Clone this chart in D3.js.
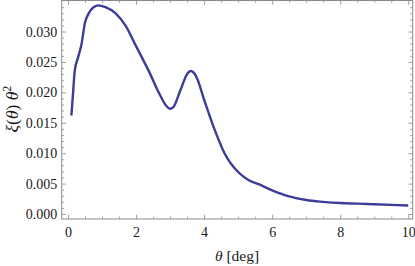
<!DOCTYPE html>
<html>
<head>
<meta charset="utf-8">
<script src="https://cdn.jsdelivr.net/npm/d3@7"></script>
<style>
	body { margin: 0; background: #fff; }
</style>
</head>
<body>
<div id="chart"></div>
<script>
// theta in degrees, xi(theta)*theta^2
const theta = [0.1, 0.15, 0.2, 0.3, 0.4, 0.5, 0.6, 0.75, 0.9, 1.1, 1.4, 1.7, 2.0, 2.4, 2.7, 2.9, 3.0, 3.1, 3.3, 3.5, 3.6, 3.7, 3.8, 4.0, 4.3, 4.6, 5.0, 5.3, 5.6, 6.0, 6.5, 7.0, 7.5, 8.0, 8.5, 9.0, 9.5, 10.0];
const xiTheta2 = [0.0162, 0.0200, 0.0236, 0.0258, 0.0280, 0.0315, 0.0329, 0.0340, 0.0343, 0.0340, 0.0330, 0.0309, 0.0276, 0.0232, 0.0196, 0.0177, 0.0173, 0.0176, 0.0203, 0.0230, 0.0235, 0.0232, 0.0222, 0.0188, 0.0140, 0.0100, 0.0069, 0.0056, 0.0049, 0.0039, 0.0029, 0.0023, 0.0020, 0.0018, 0.0017, 0.0016, 0.0015, 0.0014];

const xMajor = [0, 2, 4, 6, 8, 10];
const yMajor = [0.000, 0.005, 0.010, 0.015, 0.020, 0.025, 0.030];

const W = 415, H = 266;
const mLeft = 61.7, mRight = 412.7, mTop = 0.5, mBottom = 219;
const serif = "'Liberation Serif', 'Times New Roman', serif";

const svg = d3.select('#chart').append('svg').attr('width', W).attr('height', H);

const x = d3.scaleLinear().domain([-0.185, 10.13]).range([mLeft, mRight]);
const y = d3.scaleLinear().domain([-0.00082, 0.0351]).range([mBottom, mTop]);

const xMinor = d3.range(0, 10.01, 0.5).filter(v => !xMajor.includes(v));
const yMinor = d3.range(0, 0.0351, 0.001).filter(v => Math.abs(v / 0.005 - Math.round(v / 0.005)) > 1e-6);

const frameColor = '#8a8a8a';

// ticks pointing inward on all four sides
function drawTicks(axisGen, transform) {
	const g = svg.append('g').attr('transform', transform).call(axisGen).attr('font-family', serif);
	g.select('.domain').remove();
	g.selectAll('line').attr('stroke', frameColor).attr('stroke-width', 0.8);
	return g;
}

// bottom
const bx = drawTicks(d3.axisBottom(x).tickValues(xMajor).tickSizeInner(-4.3).tickSizeOuter(0).tickPadding(12).tickFormat(d3.format('d')), `translate(0,${mBottom})`);
bx.selectAll('text').attr('fill', '#1a1a1a').style('font-family', serif).style('font-size', '14px').attr('dy', '0.71em').attr('y', 8);
drawTicks(d3.axisBottom(x).tickValues(xMinor).tickSizeInner(-2.4).tickSizeOuter(0).tickFormat(''), `translate(0,${mBottom})`);
// top
drawTicks(d3.axisTop(x).tickValues(xMajor).tickSizeInner(-4.3).tickSizeOuter(0).tickFormat(''), `translate(0,${mTop})`);
drawTicks(d3.axisTop(x).tickValues(xMinor).tickSizeInner(-2.4).tickSizeOuter(0).tickFormat(''), `translate(0,${mTop})`);
// left
const ly = drawTicks(d3.axisLeft(y).tickValues(yMajor).tickSizeInner(-4.3).tickSizeOuter(0).tickPadding(9).tickFormat(d3.format('.3f')), `translate(${mLeft},0)`);
ly.selectAll('text').attr('fill', '#1a1a1a').style('font-family', serif).style('font-size', '14px').attr('x', -4.5);
drawTicks(d3.axisLeft(y).tickValues(yMinor).tickSizeInner(-2.4).tickSizeOuter(0).tickFormat(''), `translate(${mLeft},0)`);
// right
drawTicks(d3.axisRight(y).tickValues(yMajor).tickSizeInner(-4.3).tickSizeOuter(0).tickFormat(''), `translate(${mRight},0)`);
drawTicks(d3.axisRight(y).tickValues(yMinor).tickSizeInner(-2.4).tickSizeOuter(0).tickFormat(''), `translate(${mRight},0)`);

svg.append('rect').attr('x', mLeft).attr('y', mTop).attr('width', mRight - mLeft).attr('height', mBottom - mTop)
	.attr('fill', 'none').attr('stroke', frameColor).attr('stroke-width', 1);

const data = theta.map((t, i) => ({ t: t, v: xiTheta2[i] }));
const line = d3.line().x(d => x(d.t)).y(d => y(d.v)).curve(d3.curveMonotoneX);

svg.append('path').datum(data).attr('d', line)
	.attr('fill', 'none').attr('stroke', '#3d3d99').attr('stroke-width', 2.4)
	.attr('stroke-linejoin', 'round').attr('stroke-linecap', 'butt');

// axis labels
const xl = svg.append('text').attr('x', 237).attr('y', 261).attr('text-anchor', 'middle')
	.style('font-family', serif).style('font-size', '15.5px').attr('fill', '#1a1a1a');
xl.append('tspan').style('font-style', 'italic').text('θ');
xl.append('tspan').text(' [deg]');

const yl = svg.append('text').attr('transform', 'translate(17.5,109) rotate(-90)').attr('text-anchor', 'middle')
	.style('font-family', serif).style('font-size', '17.5px').attr('fill', '#1a1a1a');
yl.append('tspan').style('font-style', 'italic').text('ξ');
yl.append('tspan').text('(');
yl.append('tspan').style('font-style', 'italic').text('θ');
yl.append('tspan').text(') ');
yl.append('tspan').style('font-style', 'italic').text('θ');
yl.append('tspan').attr('dy', -7).style('font-size', '12px').text('2');
</script>
</body>
</html>
